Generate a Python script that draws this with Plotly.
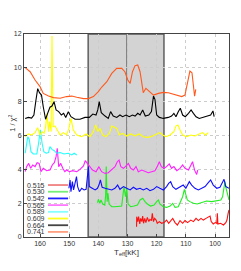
import plotly.graph_objects as go

# ---- data ----
labels = ["0.515", "0.530", "0.542", "0.565", "0.589", "0.609", "0.664", "0.741"]
colors = ["#ff1010", "#22ee22", "#1010ff", "#ff22ff", "#22ffff", "#ffff00", "#000000", "#ff5a1e"]
legend_colors = ["#f08080", "#77ee77", "#2020ff", "#ff77ff", "#88ffff", "#ffff22", "#444444", "#ffa080"]

t_0515 = [126.9, 126.85, 126.5, 126.2, 125.8, 125.5, 125.1, 124.8, 124.5, 124.1, 123.7, 123.2, 122.7, 122.3, 121.8, 121.5, 121.1, 120.7, 120.2, 119.8, 119.1, 118.3, 117.5, 116.6, 115.9, 115.2, 114.5, 113.7, 112.9, 112.0, 111.1, 110.3, 109.4, 108.3, 107.4, 106.5, 105.7, 104.8, 104.0, 103.1, 102.2, 101.7, 101.3, 100.6, 99.9, 99.4, 99.2, 99.0, 98.1, 97.1, 96.3, 95.9, 95.5, 95.2]
v_0515 = [0.61, 1.2, 0.91, 1.2, 0.77, 1.1, 0.91, 1.24, 0.81, 1.1, 0.85, 1.16, 0.91, 1.04, 0.97, 1.4, 0.91, 1.1, 1.0, 0.81, 0.91, 0.81, 0.85, 1.0, 0.81, 0.97, 1.1, 0.85, 0.71, 0.97, 0.81, 0.97, 0.85, 1.0, 0.91, 1.1, 0.97, 1.1, 1.0, 1.1, 1.16, 1.24, 0.91, 0.77, 0.85, 0.81, 1.4, 0.77, 0.81, 0.71, 0.85, 1.0, 1.4, 1.6]

t_0530 = [140.3, 140.0, 139.5, 139.1, 138.5, 137.8, 137.5, 137.3, 137.0, 136.7, 136.3, 135.4, 134.3, 133.1, 132.0, 131.5, 131.2, 130.7, 130.3, 129.8, 128.9, 127.8, 126.6, 125.7, 124.8, 124.0, 123.2, 122.1, 120.9, 120.0, 119.4, 118.9, 117.7, 116.6, 115.4, 114.5, 113.7, 112.6, 111.7, 111.1, 110.5, 110.0, 109.5, 108.6, 107.4, 106.1, 104.6, 102.9, 101.1, 99.4, 98.0, 97.4, 96.9, 96.6, 96.2, 95.8, 95.2]
v_0530 = [2.03, 2.23, 1.99, 2.19, 1.95, 1.89, 2.48, 4.16, 2.09, 2.58, 1.95, 1.79, 1.79, 1.79, 1.83, 2.58, 2.98, 2.38, 2.88, 1.95, 1.79, 1.83, 1.89, 2.19, 2.29, 2.09, 1.95, 1.83, 1.89, 2.09, 2.19, 1.95, 1.79, 1.75, 1.83, 1.99, 1.75, 1.79, 2.09, 2.38, 2.82, 2.48, 2.19, 2.09, 1.99, 1.95, 2.03, 2.13, 2.09, 2.15, 2.19, 2.38, 2.98, 3.27, 2.88, 2.58, 2.19]

t_0542 = [150.1, 149.7, 149.4, 148.9, 148.5, 147.9, 147.5, 147.1, 146.5, 145.7, 144.9, 144.2, 143.8, 143.4, 143.1, 142.3, 141.1, 140.3, 139.8, 139.3, 138.7, 137.7, 136.6, 135.4, 134.3, 133.4, 132.6, 131.4, 130.3, 129.1, 128.0, 126.9, 125.7, 124.6, 123.4, 122.3, 121.1, 120.0, 118.9, 117.7, 116.6, 115.9, 115.2, 114.5, 113.4, 112.0, 110.9, 110.0, 108.8, 108.0, 106.9, 105.7, 104.6, 103.4, 102.3, 101.5, 100.6, 99.4, 98.3, 97.4, 96.9, 96.3, 95.2]
v_0542 = [2.88, 3.37, 2.68, 3.27, 2.78, 3.21, 3.57, 2.98, 2.68, 2.88, 2.78, 2.82, 3.37, 4.16, 2.98, 2.88, 2.78, 2.88, 3.07, 3.37, 2.94, 2.88, 2.82, 2.78, 2.88, 3.07, 2.82, 2.98, 2.88, 2.78, 2.94, 2.82, 2.88, 2.78, 2.88, 2.74, 2.82, 2.98, 2.88, 2.78, 2.98, 3.17, 3.27, 2.98, 2.82, 2.94, 3.07, 2.88, 3.27, 3.07, 2.88, 2.78, 2.88, 2.98, 3.21, 3.37, 3.07, 2.88, 2.94, 3.27, 3.41, 2.98, 2.88]

t_0565 = [165.1, 164.6, 163.9, 163.2, 162.5, 161.7, 161.0, 160.3, 159.7, 158.9, 157.7, 156.6, 155.8, 155.1, 154.5, 154.1, 153.6, 152.9, 152.2, 151.5, 150.9, 149.9, 148.8, 147.4, 146.3, 145.1, 144.5, 143.8, 142.9, 142.0, 140.8, 139.8, 138.9, 137.7, 136.6, 135.4, 134.3, 133.5, 132.9, 132.3, 131.4, 130.5, 129.7, 128.9, 128.0, 127.1, 126.3, 125.1, 124.0, 122.9, 121.7, 120.6, 119.8, 119.1, 118.4, 117.5, 116.6, 115.7, 114.9, 114.1, 113.1, 112.0, 111.1, 110.3, 109.1, 108.3, 107.7, 107.0, 106.3, 105.9]
v_0565 = [3.86, 4.16, 4.35, 4.06, 4.26, 4.16, 4.39, 4.35, 3.86, 4.06, 3.92, 3.96, 4.26, 4.39, 4.75, 5.24, 4.16, 4.35, 4.06, 3.86, 3.96, 3.86, 3.92, 3.86, 4.0, 4.2, 4.51, 4.35, 4.16, 3.96, 3.86, 4.16, 3.86, 3.76, 3.8, 3.96, 4.16, 4.45, 4.55, 4.16, 4.06, 4.2, 4.35, 4.06, 3.96, 4.16, 3.86, 3.96, 3.86, 3.8, 3.86, 3.92, 4.16, 4.45, 4.16, 4.06, 4.16, 4.32, 4.06, 4.16, 3.92, 4.06, 4.26, 4.06, 3.96, 4.26, 4.45, 3.95, 3.7, 3.96]

t_0589 = [165.1, 164.7, 164.2, 163.7, 163.1, 162.3, 161.1, 160.5, 159.9, 159.3, 158.7, 157.9, 157.1, 156.6, 155.9, 155.1, 154.3, 153.1, 151.8, 150.3, 149.1, 148.3, 147.4]
v_0589 = [4.95, 5.34, 5.93, 5.77, 5.04, 4.91, 4.91, 5.54, 6.33, 5.54, 5.04, 4.95, 4.99, 5.34, 5.18, 5.1, 4.95, 4.99, 4.91, 4.95, 4.85, 4.95, 4.85]

t_0609 = [165.1, 164.0, 162.9, 161.7, 160.8, 160.0, 159.3, 158.6, 158.1, 157.6, 157.1, 156.7, 156.2, 155.9, 155.5, 154.9, 154.1, 153.1, 152.0, 150.9, 150.1, 149.4, 148.6, 147.4, 145.7, 144.2, 142.9, 141.7, 140.9, 140.2, 139.4, 138.5, 137.4, 136.2, 135.4, 134.5, 133.7, 132.8, 131.7, 130.3, 128.9, 127.4, 126.0, 124.6, 122.9, 121.4, 120.0, 118.9, 117.9, 116.8, 115.4, 114.1, 113.4, 112.7, 112.0, 111.1, 109.7, 108.3, 106.9, 105.5, 104.3, 103.2, 102.3]
v_0609 = [5.93, 6.09, 6.03, 6.17, 6.46, 6.03, 6.23, 6.13, 6.52, 7.31, 6.23, 6.82, 6.23, 11.88, 6.52, 6.56, 6.33, 6.03, 6.17, 6.03, 6.42, 7.01, 6.33, 6.03, 5.93, 6.09, 5.93, 6.23, 6.62, 6.23, 6.42, 6.03, 5.93, 6.13, 6.56, 6.48, 6.42, 6.03, 6.13, 5.97, 6.09, 5.97, 6.09, 5.93, 5.89, 5.97, 6.09, 6.17, 6.03, 5.93, 6.03, 6.23, 6.56, 6.62, 6.33, 6.03, 5.93, 6.03, 5.97, 6.09, 6.17, 6.03, 6.17]

t_0664 = [165.1, 164.0, 162.9, 162.1, 161.4, 160.8, 160.2, 159.5, 158.9, 158.1, 157.4, 156.6, 155.9, 155.2, 154.5, 153.6, 152.7, 151.9, 151.2, 150.3, 149.4, 148.0, 146.3, 144.6, 143.1, 141.9, 140.8, 140.2, 139.7, 139.0, 137.7, 136.6, 135.8, 134.9, 133.7, 132.6, 131.7, 130.5, 129.4, 128.3, 127.4, 126.5, 125.7, 124.8, 123.9, 122.7, 121.8, 121.1, 120.6, 120.0, 119.1, 117.7, 116.0, 114.9, 114.1, 113.4, 112.6, 111.9, 111.1, 110.2, 109.1, 108.2, 107.4, 106.5, 105.4, 104.0, 102.6, 101.5, 100.7, 100.3]
v_0664 = [7.0, 7.07, 7.03, 7.21, 8.1, 8.77, 8.53, 8.39, 7.7, 6.96, 7.31, 7.67, 7.74, 8.0, 7.51, 7.41, 7.21, 7.31, 7.07, 7.41, 7.11, 6.96, 6.96, 7.07, 7.07, 7.27, 7.21, 7.51, 8.0, 7.35, 7.15, 7.01, 7.41, 7.15, 7.07, 7.21, 7.11, 7.21, 7.11, 7.21, 7.15, 7.31, 7.21, 7.51, 7.15, 7.21, 7.41, 8.33, 8.14, 7.21, 7.07, 7.01, 7.07, 7.15, 7.31, 7.11, 7.41, 7.61, 7.21, 7.11, 7.31, 7.51, 7.31, 7.11, 7.01, 7.07, 7.15, 7.21, 7.45, 7.11]

t_0741 = [165.1, 163.4, 161.7, 160.0, 158.9, 157.1, 155.4, 153.1, 150.9, 149.1, 147.4, 145.1, 143.4, 141.7, 140.0, 138.9, 137.1, 135.4, 133.7, 132.0, 130.9, 129.9, 129.1, 128.3, 127.4, 126.5, 125.7, 125.1, 124.6, 123.7, 122.5, 121.1, 119.4, 117.7, 116.0, 114.3, 112.6, 111.4, 110.3, 109.4, 108.6, 107.9, 107.3, 107.0, 106.6]
v_0741 = [10.01, 9.77, 9.28, 8.89, 8.49, 8.33, 8.24, 8.2, 8.3, 8.33, 8.26, 8.18, 8.18, 8.3, 8.59, 8.85, 9.18, 9.67, 9.97, 9.97, 9.77, 9.28, 9.08, 9.77, 10.13, 10.17, 9.77, 8.89, 8.53, 8.79, 8.59, 8.39, 8.49, 8.55, 8.53, 8.45, 8.33, 8.3, 8.39, 9.18, 9.81, 9.71, 8.89, 8.33, 8.73]

series_t = [t_0515, t_0530, t_0542, t_0565, t_0589, t_0609, t_0664, t_0741]
series_v = [v_0515, v_0530, v_0542, v_0565, v_0589, v_0609, v_0664, v_0741]

x_ticks = [160, 150, 140, 130, 120, 110, 100]
y_ticks = [0, 2, 4, 6, 8, 10, 12]
band = [143.5, 117.5]
band_mid = 130.3

fig = go.Figure()
for lab, col, t, v in zip(labels, colors, series_t, series_v):
    fig.add_trace(go.Scatter(x=t, y=v, mode="lines", name=lab,
                             line=dict(color=col, width=1.1), showlegend=False))

# shaded band (above grid, below data)
fig.add_shape(type="rect", xref="x", yref="paper", x0=band[0], x1=band[1], y0=0, y1=1,
              fillcolor="#d3d3d3", line=dict(color="#555555", width=1.4), layer="between")
fig.add_shape(type="line", xref="x", yref="paper", x0=band_mid, x1=band_mid, y0=0, y1=1,
              line=dict(color="#777777", width=1), layer="between")

# custom legend: text left, line right
lx0, lx1 = 0.117, 0.215
ly0, dy = 0.256, 0.033
for i, (lab, lc) in enumerate(zip(labels, legend_colors)):
    yy = ly0 - i * dy
    fig.add_annotation(xref="paper", yref="paper", x=lx0 - 0.005, y=yy, text=lab,
                       showarrow=False, xanchor="right", yanchor="middle",
                       font=dict(family="Liberation Sans", size=7, color="#333333"))
    fig.add_shape(type="line", xref="paper", yref="paper", x0=lx0, x1=lx1, y0=yy, y1=yy,
                  line=dict(color=lc, width=1.8))

# y-axis title
fig.add_annotation(xref="paper", yref="paper", x=-0.056, y=0.56, text="1 / χ<sup>2</sup>",
                   textangle=-90, showarrow=False, xanchor="center", yanchor="middle",
                   font=dict(family="Liberation Sans", size=7.5, color="#333333"))

axis_common = dict(showline=True, mirror=True, linecolor="#444444", linewidth=1,
                   ticks="inside", ticklen=3, tickcolor="#444444", automargin=False,
                   showgrid=True, gridcolor="#cccccc", griddash="dot", gridwidth=1,
                   zeroline=False, tickfont=dict(family="Liberation Sans", size=7, color="#333333"))

# page body has an 8px default margin, so the figure is 8px smaller and offsets reduced
fig.update_layout(
    width=233, height=263,
    margin=dict(l=16, r=12, t=26, b=34),
    paper_bgcolor="white", plot_bgcolor="white",
    xaxis=dict(range=[165.5, 95.2], tickvals=x_ticks, **axis_common,
               title=dict(text="T<sub>eff</sub>[kK]", standoff=2,
                          font=dict(family="Liberation Sans", size=8, color="#333333"))),
    yaxis=dict(range=[0, 12], tickvals=y_ticks, **axis_common),
    showlegend=False,
)

fig.write_html("out.html")
